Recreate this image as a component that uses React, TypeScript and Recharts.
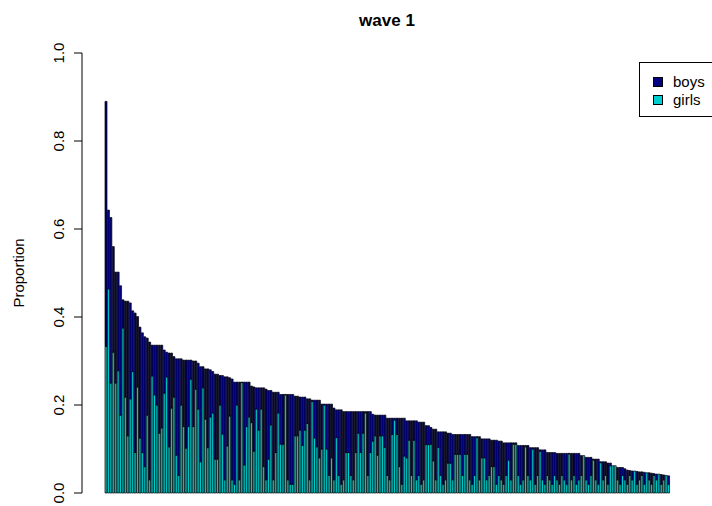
import React from 'react';
import { BarChart, Bar, XAxis, YAxis } from 'recharts';

// total bar heights (boys + girls), sorted descending
const totals: number[] = [
  0.89, 0.643, 0.626, 0.56, 0.502, 0.502, 0.471, 0.439, 0.436, 0.436,
  0.432, 0.414, 0.409, 0.401, 0.377, 0.364, 0.355, 0.352, 0.343, 0.336,
  0.336, 0.336, 0.336, 0.336, 0.325, 0.32, 0.318, 0.318, 0.31, 0.305,
  0.305, 0.305, 0.302, 0.302, 0.302, 0.302, 0.3, 0.3, 0.295, 0.287,
  0.287, 0.282, 0.282, 0.28, 0.276, 0.27, 0.27, 0.267, 0.267, 0.264,
  0.264, 0.262, 0.259, 0.252, 0.252, 0.252, 0.252, 0.252, 0.252, 0.252,
  0.243, 0.241, 0.239, 0.239, 0.239, 0.239, 0.236, 0.233, 0.233, 0.229,
  0.229, 0.229, 0.224, 0.224, 0.224, 0.224, 0.224, 0.224, 0.22, 0.22,
  0.218, 0.218, 0.218, 0.214, 0.214, 0.211, 0.211, 0.211, 0.211, 0.202,
  0.202, 0.202, 0.202, 0.202, 0.193, 0.189, 0.189, 0.189, 0.185, 0.185,
  0.185, 0.185, 0.185, 0.185, 0.185, 0.185, 0.185, 0.185, 0.185, 0.185,
  0.179, 0.177, 0.177, 0.177, 0.177, 0.177, 0.17, 0.17, 0.17, 0.17,
  0.17, 0.17, 0.17, 0.17, 0.164, 0.164, 0.164, 0.164, 0.164, 0.161,
  0.161, 0.161, 0.153, 0.153, 0.149, 0.145, 0.145, 0.139, 0.139, 0.139,
  0.139, 0.136, 0.136, 0.133, 0.133, 0.133, 0.133, 0.133, 0.133, 0.133,
  0.133, 0.128, 0.128, 0.128, 0.128, 0.123, 0.123, 0.123, 0.123, 0.12,
  0.12, 0.12, 0.118, 0.118, 0.114, 0.114, 0.114, 0.114, 0.114, 0.114,
  0.108, 0.108, 0.108, 0.108, 0.108, 0.103, 0.103, 0.103, 0.103, 0.098,
  0.098, 0.098, 0.092, 0.092, 0.092, 0.092, 0.09, 0.09, 0.09, 0.09,
  0.09, 0.09, 0.09, 0.09, 0.09, 0.09, 0.085, 0.085, 0.081, 0.081,
  0.081, 0.077, 0.077, 0.077, 0.071, 0.071, 0.071, 0.068, 0.068, 0.062,
  0.062, 0.058, 0.058, 0.058, 0.055, 0.052, 0.051, 0.05, 0.05, 0.049,
  0.048, 0.048, 0.047, 0.046, 0.046, 0.045, 0.044, 0.043, 0.043, 0.042,
  0.041, 0.04, 0.039,
];

// girls part of each bar (drawn at the bottom of the stack)
const girls: number[] = [
  0.333, 0.464, 0.25, 0.32, 0.25, 0.278, 0.177, 0.375, 0.218, 0.13,
  0.214, 0.276, 0.092, 0.241, 0.125, 0.092, 0.06, 0.177, 0.03, 0.266,
  0.223, 0.2, 0.136, 0.148, 0.227, 0.264, 0.105, 0.193, 0.218, 0.086,
  0.04, 0.2, 0.151, 0.102, 0.151, 0.259, 0.151, 0.236, 0.191, 0.071,
  0.239, 0.168, 0.103, 0.173, 0.182, 0.077, 0.077, 0.2, 0.134, 0.03,
  0.107, 0.175, 0.03, 0.02, 0.2, 0.03, 0.251, 0.064, 0.151, 0.173,
  0.16, 0.095, 0.191, 0.143, 0.191, 0.06, 0.03, 0.077, 0.155, 0.03,
  0.092, 0.182, 0.111, 0.111, 0.223, 0.03, 0.02, 0.02, 0.13, 0.13,
  0.143, 0.108, 0.143, 0.158, 0.03, 0.208, 0.125, 0.105, 0.08, 0.1,
  0.2, 0.1, 0.04, 0.08, 0.03, 0.126, 0.04, 0.02, 0.03, 0.092,
  0.092, 0.04, 0.03, 0.092, 0.136, 0.092, 0.136, 0.182, 0.04, 0.092,
  0.118, 0.13, 0.086, 0.13, 0.13, 0.104, 0.04, 0.03, 0.133, 0.166,
  0.133, 0.06, 0.02, 0.084, 0.08, 0.12, 0.04, 0.12, 0.03, 0.04,
  0.02, 0.03, 0.11, 0.11, 0.111, 0.073, 0.03, 0.104, 0.04, 0.02,
  0.03, 0.068, 0.068, 0.03, 0.088, 0.088, 0.088, 0.04, 0.088, 0.088,
  0.03, 0.02, 0.04, 0.126, 0.03, 0.08, 0.08, 0.03, 0.04, 0.06,
  0.06, 0.02, 0.04, 0.03, 0.02, 0.04, 0.075, 0.03, 0.111, 0.111,
  0.04, 0.02, 0.03, 0.105, 0.04, 0.03, 0.1, 0.02, 0.04, 0.095,
  0.03, 0.02, 0.04, 0.03, 0.02, 0.04, 0.03, 0.02, 0.04, 0.03,
  0.02, 0.089, 0.03, 0.04, 0.02, 0.03, 0.04, 0.085, 0.03, 0.02,
  0.04, 0.075, 0.03, 0.02, 0.069, 0.03, 0.04, 0.02, 0.062, 0.062,
  0.062, 0.03, 0.02, 0.04, 0.03, 0.02, 0.04, 0.03, 0.05, 0.02,
  0.03, 0.04, 0.02, 0.046, 0.03, 0.02, 0.04, 0.03, 0.043, 0.02,
  0.03, 0.04, 0.02,
];

const yTicks: number[] = [0, 0.2, 0.4, 0.6, 0.8, 1.0];
const titleText = 'wave 1';
const yLabelText = 'Proportion';
const seriesNames: string[] = ['boys', 'girls'];
const seriesColors: Record<string, string> = { boys: '#000080', girls: '#00CDCD' };

const data = totals.map((t, i) => ({
  id: i,
  girls: girls[i],
  boys: Math.max(0, +(t - girls[i]).toFixed(4)),
}));

const FONT = '"Liberation Sans", Arial, Helvetica, sans-serif';

const YTick = (props: any) => {
  const { x, y, payload } = props;
  const bx = x - 8;
  return (
    <text
      x={bx}
      y={y}
      transform={`rotate(-90 ${bx} ${y})`}
      textAnchor="middle"
      fontSize={15}
      fontFamily={FONT}
      fill="#000"
    >
      {Number(payload.value).toFixed(1)}
    </text>
  );
};

const LegendBox = () => (
  <div
    style={{
      position: 'absolute',
      left: 639,
      top: 62,
      border: '1px solid #000',
      background: '#fff',
      width: 90,
      height: 55,
      boxSizing: 'border-box',
      padding: '10px 0 0 13px',
      fontFamily: FONT,
      fontSize: 15,
      lineHeight: '18px',
      color: '#000',
    }}
  >
    {seriesNames.map((n) => (
      <div key={n} style={{ display: 'flex', alignItems: 'center', height: 18 }}>
        <span
          style={{
            display: 'inline-block',
            width: 10,
            height: 10,
            background: seriesColors[n],
            border: '1px solid #000',
            boxSizing: 'border-box',
            marginRight: 10,
          }}
        />
        <span>{n}</span>
      </div>
    ))}
  </div>
);

export default function App() {
  return (
    <div
      style={{
        position: 'absolute',
        left: 0,
        top: 0,
        width: 712,
        height: 506,
        overflow: 'hidden',
        background: '#fff',
      }}
    >
      <BarChart
        width={712}
        height={506}
        data={data}
        margin={{ top: 53, right: 20, bottom: 13, left: 0 }}
        barCategoryGap={0}
        barGap={0}
      >
        <text
          x={387}
          y={26}
          textAnchor="middle"
          fontSize={17}
          fontWeight="bold"
          fontFamily={FONT}
          fill="#000"
        >
          {titleText}
        </text>
        <XAxis dataKey="id" hide padding={{ left: 23, right: 22 }} />
        <YAxis
          width={82}
          domain={[0, 1]}
          ticks={yTicks}
          interval={0}
          axisLine={{ stroke: '#000' }}
          tickLine={{ stroke: '#000' }}
          tickSize={8}
          tickMargin={2}
          tick={<YTick />}
          label={(p: any) => (
            <text
              x={24}
              y={273}
              transform="rotate(-90 24 273)"
              textAnchor="middle"
              fontSize={15}
              fontFamily={FONT}
              fill="#000"
            >
              {yLabelText}
            </text>
          )}
        />
        <Bar
          dataKey="girls"
          stackId="s"
          fill={seriesColors.girls}
          stroke="#000"
          strokeWidth={0.7}
          isAnimationActive={false}
        />
        <Bar
          dataKey="boys"
          stackId="s"
          fill={seriesColors.boys}
          stroke="#000"
          strokeWidth={0.7}
          isAnimationActive={false}
        />
      </BarChart>
      <LegendBox />
    </div>
  );
}
